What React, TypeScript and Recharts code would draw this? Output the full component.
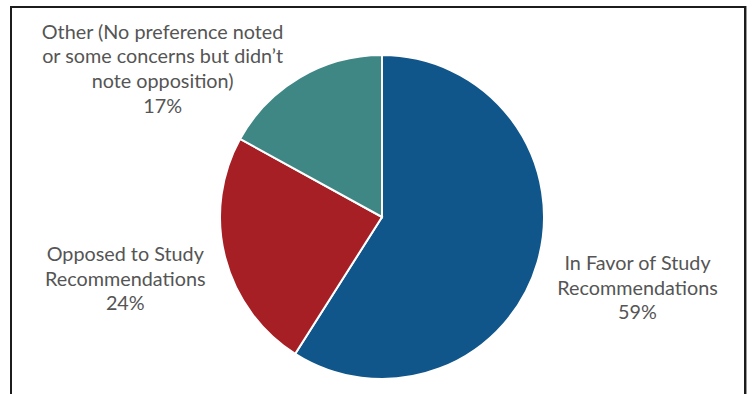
import React from "react";
import { PieChart, Pie, Cell } from "recharts";

const categories = ["In Favor of Study Recommendations", "Opposed to Study Recommendations", "Other"];
const values = [59, 24, 17];
const labelLines = [
  ["In Favor of Study", "Recommendations", "59%"],
  ["Opposed to Study", "Recommendations", "24%"],
  ["Other (No preference noted", "or some concerns but didn\u2019t", "note opposition)", "17%"],
];
const colors = ["#10568A", "#A51F24", "#3F8785"];

const data = categories.map((name, i) => ({ name, value: values[i] }));

const LABEL_RADIUS = 264;
const NUDGE: [number, number][] = [
  [2, -4],
  [-1, -5],
  [-85, 78],
];
const LINE_H = 24.7;

const RADIAN = Math.PI / 180;

const renderLabel = (props: any) => {
  const { cx, cy, midAngle, index } = props;
  const x = cx + LABEL_RADIUS * Math.cos(-midAngle * RADIAN) + NUDGE[index][0];
  const y = cy + LABEL_RADIUS * Math.sin(-midAngle * RADIAN) + NUDGE[index][1];
  const lines = labelLines[index];
  const startY = y - ((lines.length - 1) * LINE_H) / 2;
  return (
    <text
      key={`lbl-${index}`}
      x={x}
      y={startY}
      textAnchor="middle"
      dominantBaseline="central"
      fill="#555555"
      fontFamily="Lato, 'Open Sans', sans-serif"
      fontSize={19.8}
    >
      {lines.map((l, j) => (
        <tspan key={j} x={x} y={startY + j * LINE_H} dominantBaseline="central">
          {l}
        </tspan>
      ))}
    </text>
  );
};

export default function App() {
  return (
    <div
      style={{
        position: "absolute",
        left: 0,
        top: 0,
        width: 753,
        height: 394,
        overflow: "hidden",
        background: "#ffffff",
      }}
    >
      <div
        style={{
          position: "absolute",
          left: 10,
          top: 6,
          width: 732,
          height: 420,
          border: "2px solid #1c1c1c",
          boxShadow: "1px 0 0 #9a9a9a",
        }}
      />
      <div style={{ position: "absolute", left: 0, top: 0 }}>
        <PieChart width={753} height={394} margin={{ top: 0, right: 0, bottom: 0, left: 0 }}>
          <Pie
            data={data}
            dataKey="value"
            nameKey="name"
            cx={382}
            cy={217}
            outerRadius={162}
            startAngle={90}
            endAngle={-270}
            stroke="#ffffff"
            strokeWidth={2}
            label={renderLabel}
            labelLine={false}
            isAnimationActive={false}
          >
            {data.map((d, i) => (
              <Cell key={d.name} fill={colors[i]} />
            ))}
          </Pie>
        </PieChart>
      </div>
    </div>
  );
}
